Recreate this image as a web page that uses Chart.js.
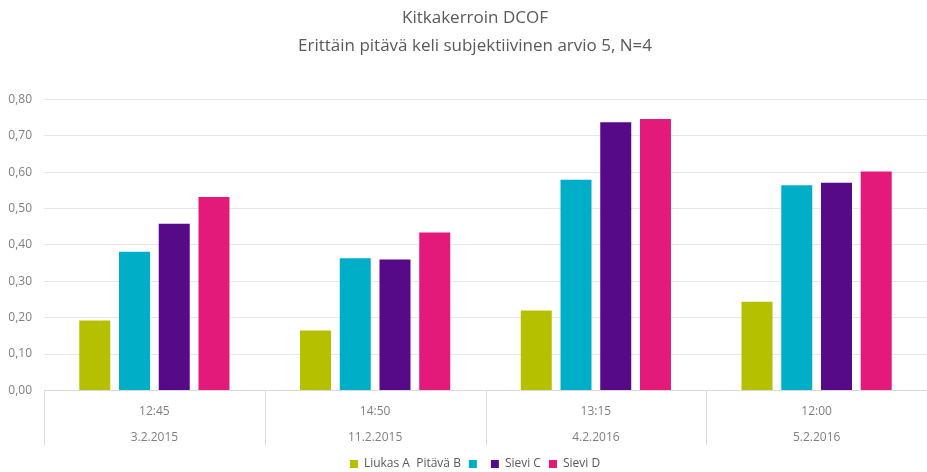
<!DOCTYPE html>
<html>
<head>
<meta charset="utf-8">
<script src="https://cdn.jsdelivr.net/npm/chart.js@4/dist/chart.umd.min.js"></script>
<style>
  html, body { margin: 0; padding: 0; background: #fff; overflow: hidden; }
  #wrap { width: 927px; height: 472px; }
</style>
</head>
<body>
<div id="wrap"><canvas id="myChart" width="927" height="472"></canvas></div>
<script>
const times = ['12:45', '14:50', '13:15', '12:00'];
const dates = ['3.2.2015', '11.2.2015', '4.2.2016', '5.2.2016'];
const liukasA = [0.192, 0.165, 0.220, 0.244];
const pitavaB = [0.381, 0.363, 0.579, 0.564];
const sieviC = [0.458, 0.360, 0.737, 0.571];
const sieviD = [0.532, 0.434, 0.746, 0.602];
const seriesNames = ['Liukas A  Pitävä B', '', 'Sievi C', 'Sievi D'];
const colors = ['#b5c100', '#00aec7', '#560a87', '#e31a79'];

const fontFamily = "'Open Sans', 'Noto Sans', sans-serif";
const labels = times.map((t, i) => [t, dates[i]]);

// y tick labels stick out left of the narrow axis box, so don't clip them
Chart.registry.getScale('linear').prototype._computeLabelArea = function () { return undefined; };

// vertical separators under the x axis, between categories
const separators = {
  id: 'separators',
  afterDraw(chart) {
    const x = chart.scales.x;
    const ctx = chart.ctx;
    const top = chart.chartArea.bottom;
    const half = (x.getPixelForValue(1) - x.getPixelForValue(0)) / 2;
    ctx.save();
    ctx.strokeStyle = '#d9d9d9';
    ctx.lineWidth = 1;
    for (let i = 0; i <= labels.length; i++) {
      const px = Math.round(x.getPixelForValue(i) - half) + 0.5;
      ctx.beginPath();
      ctx.moveTo(px, top);
      ctx.lineTo(px, top + 55);
      ctx.stroke();
    }
    ctx.restore();
  }
};

const ctx = document.getElementById('myChart').getContext('2d');
const myChart = new Chart(ctx, {
  type: 'bar',
  data: {
    labels: labels,
    datasets: [liukasA, pitavaB, sieviC, sieviD].map((d, i) => ({
      label: seriesNames[i],
      data: d,
      backgroundColor: colors[i],
      borderWidth: 0,
      categoryPercentage: 0.72,
      barPercentage: 0.78
    }))
  },
  options: {
    responsive: false,
    animation: false,
    layout: { padding: { left: 18, right: -5, top: 0, bottom: -8 } },
    plugins: {
      title: {
        display: true,
        text: ['Kitkakerroin DCOF', 'Erittäin pitävä keli subjektiivinen arvio 5, N=4'],
        color: '#595959',
        font: { family: fontFamily, size: 17, weight: 'normal', lineHeight: 1.6 },
        padding: { top: 5, bottom: 40 }
      },
      legend: {
        position: 'bottom',
        labels: {
          boxWidth: 8,
          boxHeight: 8,
          padding: 8,
          color: '#595959',
          font: { family: fontFamily, size: 12 }
        }
      },
      tooltip: { enabled: false }
    },
    scales: {
      x: {
        grid: { display: false },
        border: { display: true, color: '#d9d9d9' },
        ticks: {
          color: '#7f7f7f',
          padding: 0,
          maxRotation: 0,
          font: { family: fontFamily, size: 12, lineHeight: 2.15 }
        }
      },
      y: {
        min: 0,
        max: 0.8,
        afterFit(scale) { scale.width = 26; },
        grid: { color: '#e6e6e6', drawTicks: false },
        border: { display: false },
        ticks: {
          stepSize: 0.1,
          padding: 12,
          color: '#7f7f7f',
          font: { family: fontFamily, size: 12 },
          callback: v => v.toFixed(2).replace('.', ',')
        }
      }
    }
  },
  plugins: [separators]
});
</script>
</body>
</html>
